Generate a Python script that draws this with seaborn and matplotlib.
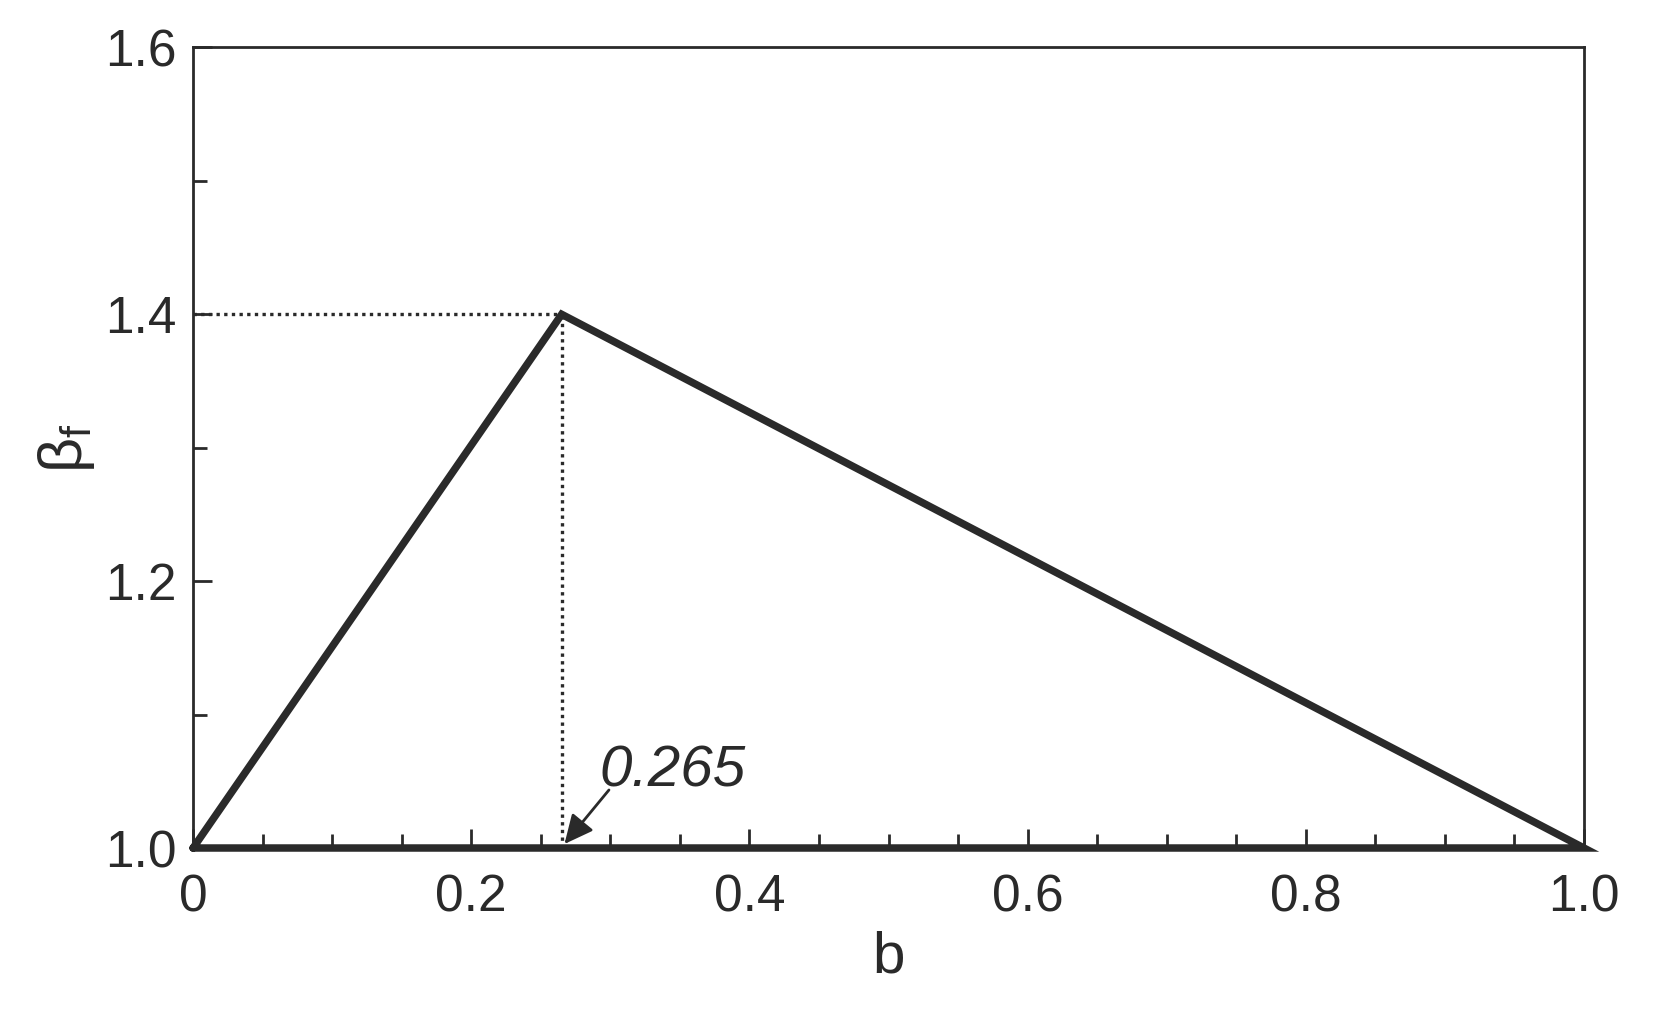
import matplotlib
matplotlib.use("Agg")
import matplotlib.pyplot as plt
import seaborn as sns
import numpy as np

# data
b_vals = [0.0, 0.265, 1.0, 0.0]
beta_vals = [1.0, 1.4, 1.0, 1.0]
peak_b = 0.265
peak_beta = 1.4
x_ticks = [0.0, 0.2, 0.4, 0.6, 0.8, 1.0]
x_tick_labels = ["0", "0.2", "0.4", "0.6", "0.8", "1.0"]
y_ticks = [1.0, 1.2, 1.4, 1.6]
y_tick_labels = ["1.0", "1.2", "1.4", "1.6"]
annot_text = "0.265"

sns.set_theme(style="ticks")
plt.rcParams['font.family'] = ['Liberation Sans', 'DejaVu Sans']
plt.rcParams['mathtext.fontset'] = 'custom'
plt.rcParams['mathtext.rm'] = 'Liberation Sans'
plt.rcParams['mathtext.it'] = 'Liberation Sans:italic'

ink = "#2a2a2a"
fig = plt.figure(figsize=(16.56, 10.14), dpi=100)
ax = fig.add_axes([0.1166, 0.1637, 0.8399, 0.7895])

sns.lineplot(x=b_vals, y=beta_vals, sort=False, estimator=None, ax=ax,
             color=ink, lw=5.4, solid_joinstyle='miter', clip_on=False, zorder=5)

ax.plot([0, peak_b], [peak_beta, peak_beta], color=ink, lw=2.4,
        linestyle=(0, (1, 1.3)), zorder=3)
ax.plot([peak_b, peak_b], [y_ticks[0], peak_beta], color=ink, lw=2.4,
        linestyle=(0, (1, 1.3)), zorder=3)

ax.annotate("", xy=(0.267, 1.003), xytext=(0.299, 1.0435),
            arrowprops=dict(arrowstyle='-|>,head_length=0.42,head_width=0.2',
                            mutation_scale=42,
                            color=ink, lw=2.0, shrinkA=0, shrinkB=0), zorder=6)
ax.text(0.2923, 1.046, annot_text, fontsize=42, style='italic', color=ink,
        ha='left', va='baseline')

ax.set_xlim(0, 1.0)
ax.set_ylim(1.0, 1.6)
ax.set_xticks(x_ticks)
ax.set_xticklabels(x_tick_labels)
ax.set_yticks(y_ticks)
ax.set_yticklabels(y_tick_labels)
ax.set_xticks(np.arange(0.05, 1.0, 0.05), minor=True)
ax.set_yticks([1.1, 1.3, 1.5], minor=True)

ax.tick_params(axis='both', which='major', direction='in', length=14, width=2,
               colors=ink, labelsize=37, labelcolor=ink)
ax.tick_params(axis='both', which='minor', direction='in', length=10, width=2,
               colors=ink)
ax.tick_params(axis='y', which='major', pad=12)
ax.tick_params(axis='x', which='major', pad=18)
ax.tick_params(bottom=True, left=True, top=False, right=False, which='both')

for s in ax.spines.values():
    s.set_color(ink)
    s.set_linewidth(2.0)
    s.set_visible(True)

ax.set_xlabel("b", fontsize=42, color=ink, labelpad=6)
ax.set_ylabel(r"$\mathrm{\beta}_\mathrm{f}$", fontsize=44, color=ink, labelpad=6)

fig.savefig("out.png", dpi=100)
